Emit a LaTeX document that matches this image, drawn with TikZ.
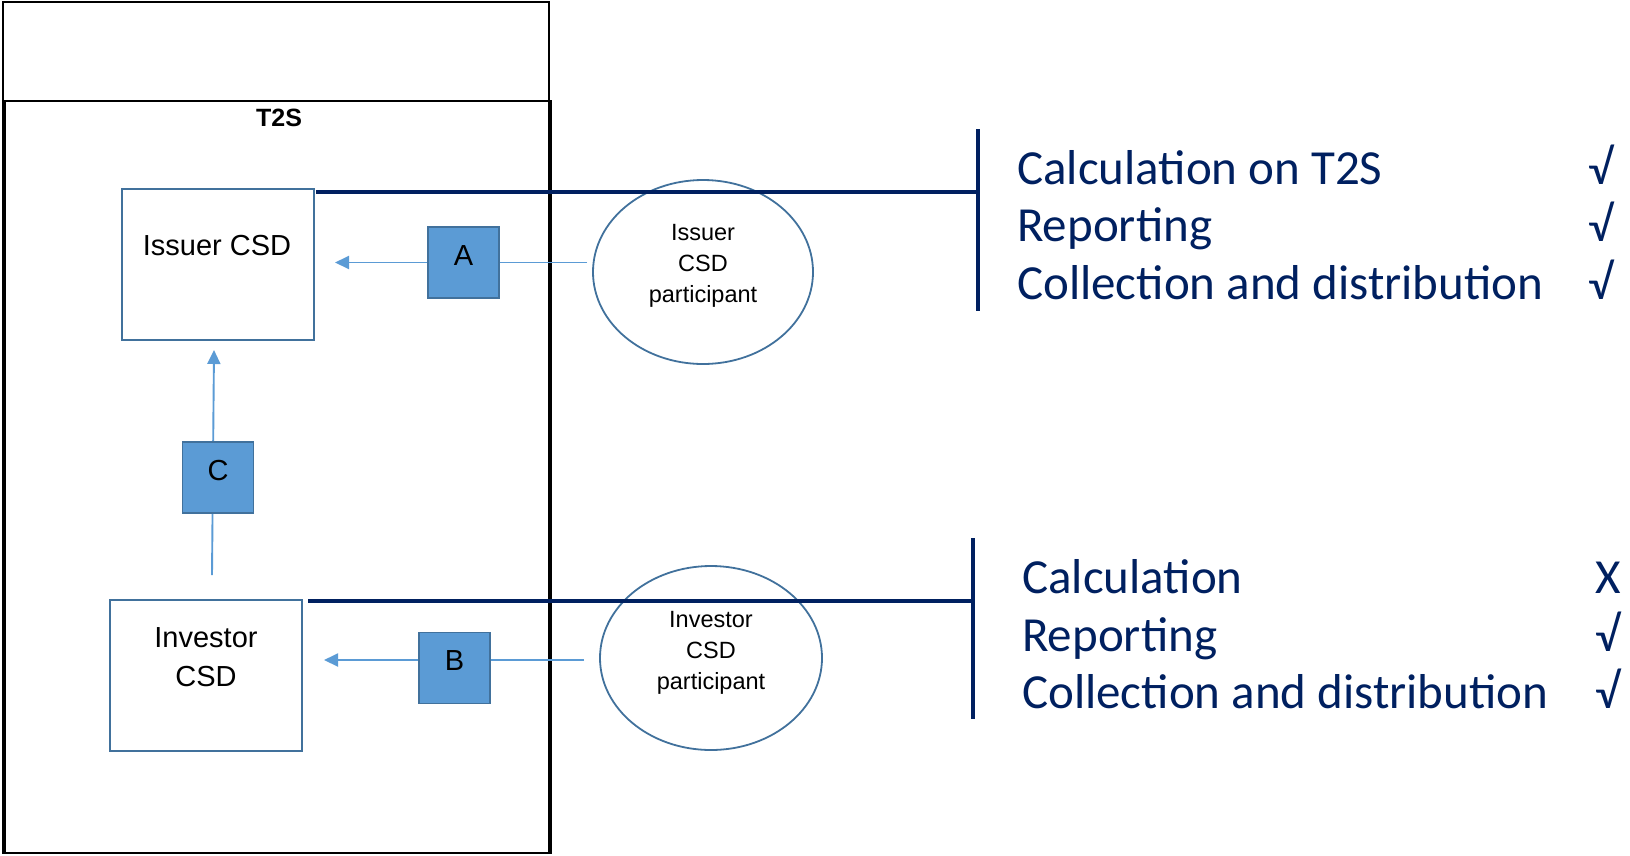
\documentclass[tikz,border=0pt]{standalone}
\usepackage{fontspec}
\setmainfont{Liberation Sans}
\newfontfamily\calib{Carlito}
\usetikzlibrary{shapes.geometric,arrows.meta}
\definecolor{fillblue}{HTML}{5B9BD5}
\definecolor{edgeblue}{HTML}{41719C}
\definecolor{navy}{HTML}{002060}
\tikzset{
  frame/.style={draw=black, line width=1.6pt, inner sep=0pt, outer sep=0pt, anchor=north west},
  csd/.style={draw=edgeblue, line width=1.8pt, inner sep=0pt, outer sep=0pt, anchor=north west, minimum width=192pt, minimum height=151pt},
  csdtext/.style={font=\fontsize{29}{39}\selectfont, align=center, inner sep=0pt},
  part/.style={ellipse, draw=edgeblue, line width=1.8pt, inner sep=0pt, outer sep=0pt},
  parttext/.style={font=\fontsize{23.5}{31}\selectfont, align=center, inner sep=0pt},
  letterbox/.style={draw=edgeblue, fill=fillblue, line width=1.8pt, minimum width=71pt, minimum height=71pt, inner sep=0pt, text height=21pt, text depth=16pt, font=\fontsize{29}{34}\selectfont},
  conn/.style={draw=fillblue, line width=1.9pt},
  arr/.style={conn, -{Triangle[length=14pt,width=13pt]}},
  navyline/.style={draw=navy, line width=3.2pt},
  rtext/.style={text=navy, font=\calib\fontsize{49}{58}\selectfont, inner sep=0pt, anchor=base west},
  tick/.style={text=navy, font=\calib\fontsize{49}{58}\selectfont, inner sep=0pt, anchor=base}
}
\begin{document}
\begin{tikzpicture}[x=1pt,y=-1pt]
\useasboundingbox (0,0) rectangle (1630,855);
% frames
\node[frame, minimum width=546pt, minimum height=851pt] (outer) at (3,2) {};
\node[frame, minimum width=546pt, minimum height=752pt] (t2s) at (5,101) {};
\node[font=\bfseries\fontsize{25}{30}\selectfont, inner sep=0pt] (t2slabel) at (279,118) {T2S};
% CSD boxes
\node[csd] (issuer) at (122,189) {};
\node[csdtext] (issuerT) at (217,246) {Issuer CSD};
\node[csd] (investor) at (110,600) {};
\node[csdtext] (investorT) at (206,657) {Investor\\CSD};
% participant ellipses
\node[part, minimum width=220pt, minimum height=184pt] (ip) at (703,272) {};
\node[parttext] (ipT) at (703,266) {Issuer\\CSD\\participant};
\node[part, minimum width=222pt, minimum height=184pt] (vp) at (711,658) {};
\node[parttext] (vpT) at (711,652.5) {Investor\\CSD\\participant};
% letter box positions
\coordinate (Apos) at (463.5,262.5);
\coordinate (Bpos) at (454.5,668);
\coordinate (Cpos) at (218,477.5);
% connectors (drawn under the letter boxes)
\coordinate (aS) at ([xshift=-6pt]ip.west |- Apos);
\coordinate (aE) at ([xshift=21pt]issuer.east |- Apos);
\draw[arr] (aS) -- (aE);
\coordinate (bS) at ([xshift=-16pt,yshift=8pt]vp.west |- Bpos);
\coordinate (bE) at ([xshift=22pt,yshift=8pt]investor.east |- Bpos);
\draw[arr] (bS) -- (bE);
\coordinate (cS) at ([xshift=6pt,yshift=25pt]investor.north);
\coordinate (cE) at ([xshift=-4pt,yshift=-10pt]issuer.south);
\draw[arr] (cS) -- (cE);
% letter boxes
\node[letterbox] (A) at (Apos) {A};
\node[letterbox] (B) at (Bpos) {B};
\node[letterbox] (C) at (Cpos) {C};
% navy brackets
\coordinate (bar1t) at (978,129);
\coordinate (bar1b) at (978,311);
\coordinate (bar2t) at (973,538);
\coordinate (bar2b) at (973,719);
\draw[navyline] (bar1t) -- (bar1b);
\draw[navyline] (bar2t) -- (bar2b);
\coordinate (l1s) at ([xshift=2pt,yshift=-3pt]issuer.north east);
\draw[navyline] (l1s) -- (l1s -| bar1t);
\coordinate (l2s) at ([xshift=6pt,yshift=-1pt]investor.north east);
\draw[navyline] (l2s) -- (l2s -| bar2t);
% right texts, upper group
\node[rtext] (u1) at (1017,184) {Calculation on T2S};
\node[rtext] (u2) at (1017,241) {Reporting};
\node[rtext] (u3) at (1017,299) {Collection and distribution};
\node[tick] (u1m) at (1601,184) {√};
\node[tick] (u2m) at (1601,241) {√};
\node[tick] (u3m) at (1601,299) {√};
% right texts, lower group
\node[rtext] (d1) at (1022,593.5) {Calculation};
\node[rtext] (d2) at (1022,651) {Reporting};
\node[rtext] (d3) at (1022,708) {Collection and distribution};
\node[tick] (d1m) at (1608,593.5) {X};
\node[tick] (d2m) at (1608,651) {√};
\node[tick] (d3m) at (1608,708) {√};
\end{tikzpicture}
\end{document}
